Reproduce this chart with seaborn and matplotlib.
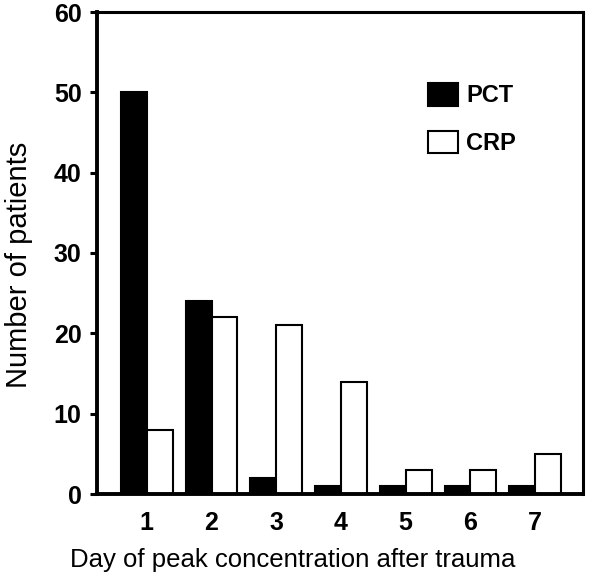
import matplotlib
matplotlib.use("Agg")
import matplotlib.pyplot as plt
import seaborn as sns
import pandas as pd
from matplotlib.patches import Patch

days = ["1", "2", "3", "4", "5", "6", "7"]
pct = [50, 24, 2, 1, 1, 1, 1]
crp = [8, 22, 21, 14, 3, 3, 5]
yticks = [0, 10, 20, 30, 40, 50, 60]

df = pd.DataFrame({
    "day": days * 2,
    "count": pct + crp,
    "marker": ["PCT"] * len(days) + ["CRP"] * len(days),
})

sns.set_theme(style="white")
plt.rcParams["font.family"] = ["Liberation Sans", "DejaVu Sans"]
plt.rcParams.update({"text.color": "black", "axes.labelcolor": "black",
                     "xtick.color": "black", "ytick.color": "black"})

fig = plt.figure(figsize=(6.0, 5.84), dpi=100)
ax = fig.add_axes([97/600, 1 - 494/584, 486/600, 482/584])

sns.barplot(data=df, x="day", y="count", hue="marker", order=days,
            hue_order=["PCT", "CRP"], palette={"PCT": "black", "CRP": "white"},
            edgecolor="black", linewidth=1.5, width=0.8, ax=ax, legend=False)

ax.set_xlim(-0.77, 6.74)
ax.set_ylim(0, 60)
ax.set_yticks(yticks)
ax.set_yticklabels([str(t) for t in yticks], fontsize=18, fontweight="bold", color="black")
ax.set_xticks(range(len(days)))
ax.set_xticklabels(days, fontsize=18, fontweight="bold", color="black")
ax.tick_params(axis="x", length=0, pad=12)
ax.tick_params(axis="y", length=5, width=2.2, direction="out", pad=6, left=True,
               color="black")
for name, s in ax.spines.items():
    s.set_visible(True)
    s.set_color("black")
    s.set_linewidth(2.8 if name in ("left", "bottom") else 2.2)

ax.set_xlabel("Day of peak concentration after trauma", fontsize=18.5, color="black")
ax.xaxis.set_label_coords(0.402, -0.112)
ax.set_ylabel("Number of patients", fontsize=21, color="black")
ax.yaxis.set_label_coords(-0.132, 0.476)

handles = [Patch(facecolor="black", edgecolor="black", linewidth=1.5, label="PCT"),
           Patch(facecolor="white", edgecolor="black", linewidth=1.5, label="CRP")]
leg = ax.legend(handles=handles, loc="upper left", bbox_to_anchor=(0.681, 0.853),
                frameon=False, borderpad=0, borderaxespad=0, handlelength=1.27,
                handleheight=1.1, handletextpad=0.35, labelspacing=1.0,
                prop={"size": 17, "weight": "bold"})
for t in leg.get_texts():
    t.set_color("black")

fig.savefig("out.png", dpi=100)
